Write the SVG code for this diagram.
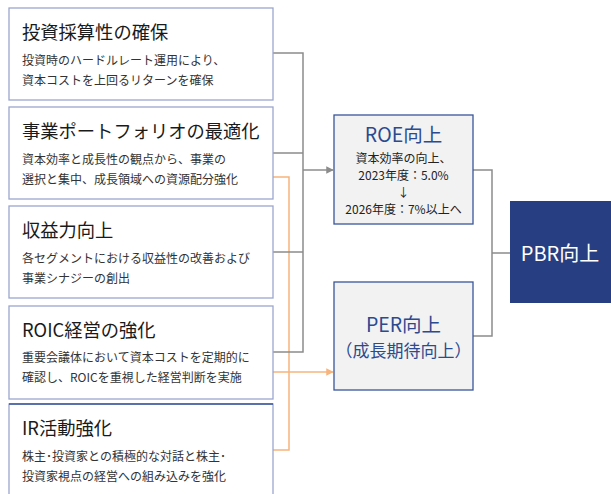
<svg xmlns="http://www.w3.org/2000/svg" width="611" height="494" viewBox="0 0 611 494">
<defs>
<style>
.box{fill:#fff;stroke:#9aa6cf;stroke-width:1.3}
.t{font-family:"Noto Sans CJK JP","Noto Sans",sans-serif;font-size:18.3px;fill:#1a1a1a}
.s{font-family:"Noto Sans CJK JP","Noto Sans",sans-serif;font-size:12px;fill:#333}
.mid{fill:#f2f2f2;stroke:#3a559a;stroke-width:1.3}
.h{font-family:"Noto Sans CJK JP","Noto Sans",sans-serif;font-size:19.5px;fill:#2c4a8f;text-anchor:middle}
.b{font-family:"Noto Sans CJK JP","Noto Sans",sans-serif;font-size:12px;fill:#222;text-anchor:middle}
.g{fill:none;stroke:#8c8c8c;stroke-width:1.5}
.o{fill:none;stroke:#f7b47c;stroke-width:1.5}
</style>
<marker id="ag" viewBox="0 0 10 10" refX="9" refY="5" markerWidth="5" markerHeight="5" orient="auto"><path d="M0,0L10,5L0,10z" fill="#8c8c8c"/></marker>
<marker id="ao" viewBox="0 0 10 10" refX="9" refY="5" markerWidth="5" markerHeight="5" orient="auto"><path d="M0,0L10,5L0,10z" fill="#f7b47c"/></marker>
</defs>
<g id="connectors">
<path class="o" d="M273,177H289V450H273M273,372H289"/>
<path class="o" d="M289,372H333" marker-end="url(#ao)"/>
<path class="g" d="M273,53H303V352H273M273,153H303M273,252H303"/>
<path class="g" d="M303,170H333" marker-end="url(#ag)"/>
<path class="g" d="M473,170H492V336H473M492,253H510"/>
</g>
<g id="n1"><rect class="box" x="9" y="8" width="264" height="92"/>
<text class="t" x="22" y="39">投資採算性の確保</text>
<text class="s" x="22" y="65">投資時のハードルレート運用により、</text>
<text class="s" x="22" y="85">資本コストを上回るリターンを確保</text></g>
<g id="n2"><rect class="box" x="9" y="107" width="264" height="92"/>
<text class="t" x="22" y="138">事業ポートフォリオの最適化</text>
<text class="s" x="22" y="164">資本効率と成長性の観点から、事業の</text>
<text class="s" x="22" y="184">選択と集中、成長領域への資源配分強化</text></g>
<g id="n3"><rect class="box" x="9" y="206" width="264" height="92"/>
<text class="t" x="22" y="237">収益力向上</text>
<text class="s" x="22" y="263">各セグメントにおける収益性の改善および</text>
<text class="s" x="22" y="283">事業シナジーの創出</text></g>
<g id="n4"><rect class="box" x="9" y="306" width="264" height="93"/>
<text class="t" x="22" y="337">ROIC経営の強化</text>
<text class="s" x="22" y="362">重要会議体において資本コストを定期的に</text>
<text class="s" x="22" y="382">確認し、ROICを重視した経営判断を実施</text></g>
<g id="n5"><rect class="box" x="9" y="404" width="264" height="100"/>
<line x1="9" y1="404" x2="273" y2="404" stroke="#3a559a" stroke-width="1.3"/>
<text class="t" x="22" y="435">IR活動強化</text>
<text class="s" x="22" y="461">株主･投資家との積極的な対話と株主･</text>
<text class="s" x="22" y="481">投資家視点の経営への組み込みを強化</text></g>
<g id="roe"><rect class="mid" x="334" y="115" width="139" height="109"/>
<text class="h" x="403.5" y="142">ROE向上</text>
<text class="b" x="403.5" y="163">資本効率の向上、</text>
<text class="b" x="403.5" y="180">2023年度：5.0%</text>
<text class="b" x="403.5" y="197">↓</text>
<text class="b" x="403.5" y="214">2026年度：7%以上へ</text></g>
<g id="per"><rect class="mid" x="334" y="282" width="139" height="108"/>
<text class="h" x="403.5" y="332">PER向上</text>
<text class="h" x="403.5" y="357" style="font-size:17px">（成長期待向上）</text></g>
<g id="pbr"><rect x="510" y="201" width="101" height="102" fill="#273f82"/>
<text x="560" y="261" font-family="Noto Sans CJK JP,Noto Sans,sans-serif" font-size="20" fill="#fff" text-anchor="middle">PBR向上</text></g>
</svg>
